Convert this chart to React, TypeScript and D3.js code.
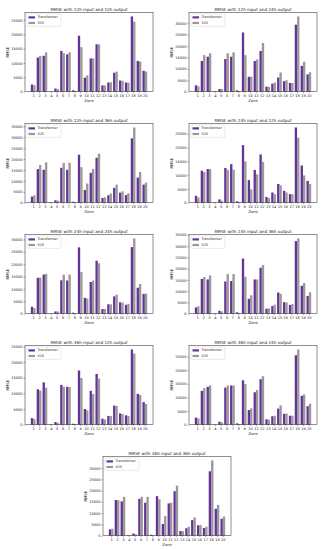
import React, { useEffect, useRef } from 'react';
import * as d3 from 'd3';

const zones = [1, 2, 3, 4, 5, 6, 7, 8, 9, 10, 11, 12, 13, 14, 15, 16, 17, 18, 19, 20];

const titles = [
  'RMSE with 12h input and 12h output',
  'RMSE with 12h input and 24h output',
  'RMSE with 12h input and 36h output',
  'RMSE with 24h input and 12h output',
  'RMSE with 24h input and 24h output',
  'RMSE with 24h input and 36h output',
  'RMSE with 36h input and 12h output',
  'RMSE with 36h input and 24h output',
  'RMSE with 36h input and 36h output',
];

const seriesNames = ['Transformer', 'S2S'];

// RMSE per zone
const trans12_12 = [2500, 11900, 12500, 100, 1100, 14200, 13000, 500, 19500, 4900, 11600, 16500, 2200, 3200, 6600, 3900, 3200, 26200, 10700, 7300];
const s2s12_12 = [2300, 12500, 13700, 100, 900, 13400, 13700, 300, 15500, 5700, 11600, 16500, 2200, 3300, 7000, 3800, 3200, 24400, 10500, 7000];

const trans12_24 = [2800, 13400, 15300, 150, 1200, 14300, 15300, 600, 25900, 6500, 13400, 17800, 2200, 3500, 6200, 4600, 3800, 29300, 11300, 7600];
const s2s12_24 = [2400, 16000, 16800, 200, 1200, 16800, 17200, 300, 16000, 6600, 14100, 21300, 2100, 4000, 8400, 5000, 3800, 32900, 13100, 8500];

const trans12_36 = [2800, 15400, 15100, 150, 1100, 16000, 15100, 450, 22000, 5800, 13700, 20600, 2200, 3400, 6800, 4600, 3500, 29500, 11500, 8300];
const s2s12_36 = [3400, 17300, 18500, 150, 900, 18300, 18300, 300, 16300, 8800, 15500, 22500, 2500, 4200, 8300, 5200, 4300, 34500, 14100, 9200];

const trans24_12 = [2500, 11600, 12200, 100, 1200, 12600, 14000, 500, 20900, 8200, 11900, 17500, 2100, 3700, 6800, 4300, 3100, 27300, 13500, 7900];
const s2s24_12 = [1900, 11100, 12200, 100, 700, 11900, 12000, 300, 15000, 4800, 10300, 14800, 1700, 3100, 6300, 3700, 3100, 23600, 9900, 6800];

const trans24_24 = [2800, 14500, 15800, 100, 900, 13500, 13400, 400, 26800, 6400, 12800, 21400, 1900, 3800, 7000, 4600, 3600, 26900, 10500, 8000];
const s2s24_24 = [2300, 14600, 16100, 100, 900, 15800, 15800, 250, 16800, 6100, 13400, 20400, 1900, 3800, 7700, 4500, 4000, 30400, 12000, 8100];

const trans24_36 = [2800, 15400, 15200, 150, 1300, 14300, 14500, 600, 24500, 6600, 15200, 20400, 2200, 3400, 9400, 5100, 3900, 32200, 12400, 7900];
const s2s24_36 = [3300, 16300, 17000, 150, 1000, 17600, 17600, 300, 16400, 8200, 15200, 21600, 2400, 4000, 8800, 5000, 4300, 33400, 13600, 9500];

const trans36_12 = [2100, 11300, 13500, 100, 850, 12700, 12100, 300, 17300, 5000, 10800, 16200, 1900, 2800, 6100, 3600, 3000, 24000, 9850, 7200];
const s2s36_12 = [1800, 10900, 11800, 100, 550, 12100, 12000, 200, 14900, 4600, 9800, 14700, 1700, 2800, 6000, 3400, 2800, 22700, 9500, 6600];

const trans36_24 = [2600, 12400, 13900, 100, 1100, 13600, 14400, 500, 16300, 5400, 11900, 16700, 2000, 3100, 5900, 4000, 3300, 25500, 10600, 6800];
const s2s36_24 = [2300, 13400, 14400, 100, 850, 14400, 14400, 250, 14900, 6000, 12700, 17800, 1800, 3300, 7100, 4100, 3300, 27600, 11100, 7700];

const trans36_36 = [2800, 15800, 15200, 150, 1000, 16300, 14600, 450, 17500, 5200, 14300, 19700, 2100, 3300, 6900, 4600, 3400, 28500, 11900, 7500];
const s2s36_36 = [3100, 15700, 17200, 150, 600, 17200, 17200, 300, 16100, 8700, 14600, 22200, 2000, 4000, 8100, 4800, 4000, 33300, 13600, 8500];

const transformerSets = [trans12_12, trans12_24, trans12_36, trans24_12, trans24_24, trans24_36, trans36_12, trans36_24, trans36_36];
const s2sSets = [s2s12_12, s2s12_24, s2s12_36, s2s24_12, s2s24_24, s2s24_36, s2s36_12, s2s36_24, s2s36_36];

const W = 328;
const H = 550;
const colors = ['#663399', '#999999'];
const font = 'DejaVu Sans, sans-serif';

const App = () => {
  const svgRef = useRef<SVGSVGElement>(null);

  useEffect(() => {
    const svg = d3.select(svgRef.current);
    svg.selectAll('*').remove();

    const boxW = 128;
    const boxH = 79;
    const barW = 0.4;

    titles.forEach((title, i) => {
      const row = Math.floor(i / 2);
      const left = i === 8 ? 103 : (i % 2 === 0 ? 25 : 189);
      const top = 12.7 + 111 * row;
      const t = transformerSets[i];
      const s = s2sSets[i];

      const g = svg.append('g').attr('transform', `translate(${left},${top})`);

      // matplotlib-like 5% margins
      const lo = zones[0] - barW;
      const hi = zones[zones.length - 1] + barW;
      const pad = (hi - lo) * 0.05;
      const x = d3.scaleLinear().domain([lo - pad, hi + pad]).range([0, boxW]);
      const maxV = d3.max([...t, ...s]) as number;
      const y = d3.scaleLinear().domain([0, maxV * 1.05]).range([boxH, 0]);

      g.selectAll('rect.t')
        .data(zones)
        .join('rect')
        .attr('class', 't')
        .attr('x', (z) => x(z - barW))
        .attr('width', x(barW) - x(0))
        .attr('y', (z, k) => y(t[k]))
        .attr('height', (z, k) => boxH - y(t[k]))
        .attr('fill', colors[0]);

      g.selectAll('rect.s')
        .data(zones)
        .join('rect')
        .attr('class', 's')
        .attr('x', (z) => x(z))
        .attr('width', x(barW) - x(0))
        .attr('y', (z, k) => y(s[k]))
        .attr('height', (z, k) => boxH - y(s[k]))
        .attr('fill', colors[1]);

      const xAxis = g.append('g')
        .attr('transform', `translate(0,${boxH})`)
        .call(d3.axisBottom(x).tickValues(zones).tickSize(1.5).tickPadding(1).tickFormat(d3.format('d')));
      const yAxis = g.append('g')
        .call(d3.axisLeft(y).tickValues(d3.range(0, maxV * 1.05, 5000)).tickSize(1.5).tickPadding(1).tickFormat(d3.format('d')));

      [xAxis, yAxis].forEach((ax) => {
        ax.select('.domain').remove();
        ax.selectAll('.tick line').attr('stroke', '#222').attr('stroke-width', 0.4);
        ax.selectAll('.tick text').attr('fill', '#222').attr('font-size', '3.5px').attr('font-family', font);
      });

      // frame
      g.append('rect')
        .attr('width', boxW)
        .attr('height', boxH)
        .attr('fill', 'none')
        .attr('stroke', '#222')
        .attr('stroke-width', 0.5);

      g.append('text')
        .attr('x', boxW / 2)
        .attr('y', -2.2)
        .attr('text-anchor', 'middle')
        .attr('font-size', '4.2px')
        .attr('font-family', font)
        .attr('fill', '#222')
        .text(title);

      g.append('text')
        .attr('x', boxW / 2)
        .attr('y', boxH + 10.5)
        .attr('text-anchor', 'middle')
        .attr('font-size', '3.8px')
        .attr('font-family', font)
        .attr('fill', '#222')
        .text('Zone');

      g.append('text')
        .attr('transform', `translate(-16.5,${boxH / 2}) rotate(-90)`)
        .attr('text-anchor', 'middle')
        .attr('font-size', '3.8px')
        .attr('font-family', font)
        .attr('fill', '#222')
        .text('RMSE');

      // legend
      const lg = g.append('g').attr('transform', 'translate(2,1.2)');
      lg.append('rect')
        .attr('width', 34)
        .attr('height', 12.5)
        .attr('rx', 0.8)
        .attr('fill', 'white')
        .attr('fill-opacity', 0.8)
        .attr('stroke', '#ccc')
        .attr('stroke-width', 0.4);
      seriesNames.forEach((name, k) => {
        lg.append('rect')
          .attr('x', 1.5)
          .attr('y', 2.4 + k * 5.6)
          .attr('width', 6.5)
          .attr('height', 2.2)
          .attr('fill', colors[k]);
        lg.append('text')
          .attr('x', 10.5)
          .attr('y', 4.6 + k * 5.6)
          .attr('font-size', '3.4px')
          .attr('font-family', font)
          .attr('fill', '#222')
          .text(name);
      });
    });
  }, []);

  return (
    <svg
      ref={svgRef}
      width={W}
      height={H}
      viewBox={`0 0 ${W} ${H}`}
      style={{ position: 'absolute', left: 0, top: 0, background: 'white' }}
    />
  );
};

export default App;
